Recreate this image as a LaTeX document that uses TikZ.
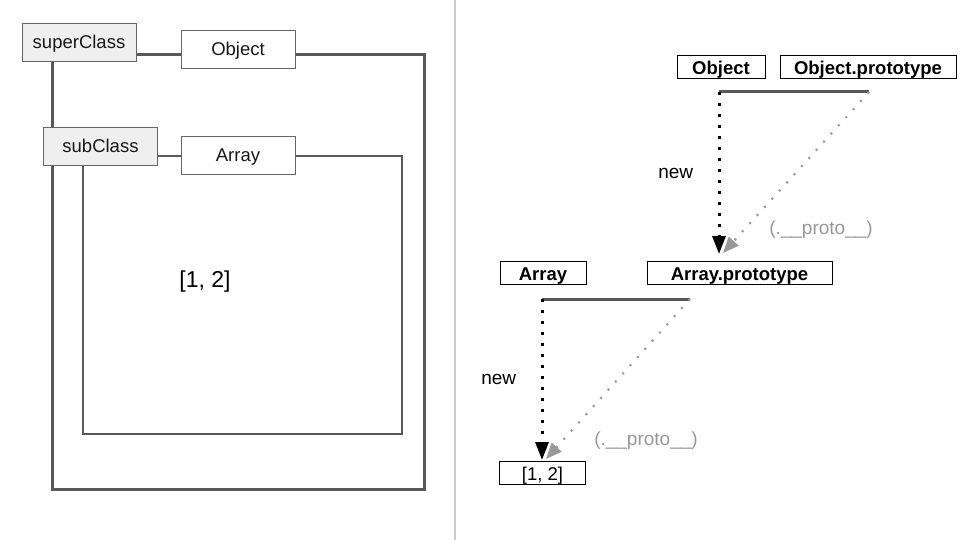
\documentclass[tikz,border=0pt]{standalone}
\usepackage{fontspec}
\setmainfont{Liberation Sans}
\usetikzlibrary{arrows.meta}
\definecolor{frame}{HTML}{595959}
\definecolor{boxgray}{HTML}{EFEFEF}
\definecolor{edgegray}{HTML}{666666}
\definecolor{protogray}{HTML}{999999}
\definecolor{divider}{HTML}{CCCCCC}
\tikzset{
  lbox/.style={draw=edgegray, line width=1pt, fill=white, inner sep=0pt, minimum width=114pt, minimum height=38pt, text height=14pt, text depth=2pt, font=\fontsize{18.5}{20}\selectfont, text=black!90},
  classbox/.style={lbox, fill=boxgray},
  rbox/.style={draw=black, line width=1pt, fill=white, inner sep=0pt, minimum height=23pt, text height=15pt, text depth=0pt, font=\bfseries\fontsize{18.5}{20}\selectfont},
  outerframe/.style={draw=frame, line width=3pt},
  innerframe/.style={draw=frame, line width=1.3pt},
  hline/.style={draw=frame, line width=3pt},
  newarrow/.style={draw=black, line width=3pt, dash pattern=on 3pt off 8pt, -{Triangle[width=13pt,length=18pt]}},
  protoarrow/.style={draw=protogray, line width=2.2pt, dash pattern=on 2pt off 9pt, -{Triangle[width=13pt,length=16pt,fill=protogray]}},
  lbl/.style={font=\fontsize{19}{21}\selectfont},
  protolbl/.style={font=\fontsize{19}{21}\selectfont, text=protogray},
}
\begin{document}
\begin{tikzpicture}[x=1pt,y=-1pt]
\useasboundingbox (0,0) rectangle (960,540);
\fill[white] (0,0) rectangle (960,540);
% divider
\coordinate (d1) at (455,0);
\coordinate (d2) at (455,540);
\draw[divider, line width=2pt] (d1) -- (d2);

% ---------- left ----------
\coordinate (o1) at (424,55);
\coordinate (o2) at (424,489);
\coordinate (o3) at (52,489);
\coordinate (i1) at (402,156);
\coordinate (i2) at (402,434);
\coordinate (i3) at (83,434);
\path
  (79,43) coordinate (supc)
  (238,49.5) coordinate (objc)
  (100.5,147) coordinate (subc)
  (238,156) coordinate (arrc);
% frames first, boxes on top
\draw[outerframe] (supc |- o1) -- (objc |- o1);
\draw[outerframe, line join=miter] (objc |- o1) -- (o1) -- (o2) -- (o3) -- (o3 |- supc);
\draw[innerframe] (subc |- i1) -- (arrc |- i1);
\draw[innerframe, line join=miter] (arrc |- i1) -- (i1) -- (i2) -- (i3) -- (i3 |- subc);
\node[classbox] (sup) at (supc) {superClass};
\node[lbox] (obj) at (objc) {Object};
\node[classbox] (sub) at (subc) {subClass};
\node[lbox] (arr) at (arrc) {Array};
\node[font=\fontsize{23}{26}\selectfont] (inst) at (205,282) {[1, 2]};

% ---------- right ----------
\node[rbox, minimum width=88pt] (ro) at (721,67.5) {Object};
\node[rbox, minimum width=176pt] (rop) at (868,67.5) {Object.prototype};
\node[rbox, minimum width=86pt] (ra) at (543,273) {Array};
\node[rbox, minimum width=185pt] (rap) at (739.5,273) {Array.prototype};
\node[rbox, minimum width=86pt, font=\fontsize{18.5}{20}\selectfont] (rinst) at (542.5,473) {[1, 2]};

\coordinate (h1) at (719,92);
\coordinate (h2) at (869,92);
\coordinate (t1) at (719,254);
\coordinate (p1) at (723,253);
\draw[hline] (h1) -- (h2);
\draw[newarrow] (h1) -- (t1) node[midway, lbl, left=21pt] (new1) {new};
\draw[protoarrow] (h2) -- (p1);
\node[protolbl] (pl1) at (821,230) {(.\_\_proto\_\_)};

\coordinate (h3) at (542,299);
\coordinate (h4) at (690,299);
\coordinate (t2) at (542,460);
\coordinate (p2) at (546,459);
\draw[hline] (h3) -- (h4);
\draw[newarrow] (h3) -- (t2) node[midway, lbl, left=21pt] (new2) {new};
\draw[protoarrow] (h4) -- (p2);
\node[protolbl] (pl2) at (646,441) {(.\_\_proto\_\_)};
\end{tikzpicture}
\end{document}
